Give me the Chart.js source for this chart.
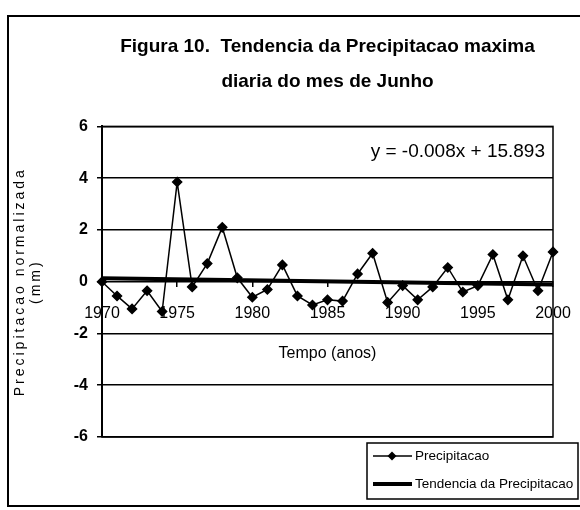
<!DOCTYPE html>
<html>
<head>
<meta charset="utf-8">
<script src="https://cdn.jsdelivr.net/npm/chart.js@4"></script>
<style>
  html, body { margin: 0; padding: 0; background: #fff; }
  #wrap { position: relative; width: 580px; height: 510px; }
</style>
</head>
<body>
<div id="wrap"><canvas id="chart"></canvas></div>
<script>
// data
const years = [1970, 1971, 1972, 1973, 1974, 1975, 1976, 1977, 1978, 1979,
               1980, 1981, 1982, 1983, 1984, 1985, 1986, 1987, 1988, 1989,
               1990, 1991, 1992, 1993, 1994, 1995, 1996, 1997, 1998, 1999, 2000];
const precip = [0.0, -0.55, -1.05, -0.35, -1.15, 3.85, -0.2, 0.7, 2.1, 0.15,
                -0.6, -0.3, 0.65, -0.55, -0.9, -0.7, -0.75, 0.3, 1.1, -0.8,
                -0.15, -0.7, -0.2, 0.55, -0.4, -0.15, 1.05, -0.7, 1.0, -0.35, 1.15];
const trendYears = [1970, 2000];
const trendValues = [0.13, -0.11];
const xTicks = [1970, 1975, 1980, 1985, 1990, 1995, 2000];
const yTicks = [-6, -4, -2, 0, 2, 4, 6];
const equation = 'y = -0.008x + 15.893';

const SANS = "'Liberation Sans', Arial, sans-serif";

// frame, plot border, equation and the boxed legend
const framePlugin = {
  id: 'frame',
  afterLayout(chart) {
    // spaced-out letters on the y axis title
    const s = chart.scales.y;
    if (!s._spaced) {
      const draw = s.drawTitle;
      s.drawTitle = function () {
        this.ctx.save();
        this.ctx.letterSpacing = '3px';
        draw.call(this);
        this.ctx.restore();
      };
      s._spaced = true;
    }
  },
  afterDraw(chart) {
    const { ctx, chartArea: a } = chart;
    ctx.save();
    ctx.strokeStyle = '#000';
    ctx.fillStyle = '#000';

    ctx.lineWidth = 1.5;
    ctx.strokeRect(a.left, a.top, a.right - a.left, a.bottom - a.top);

    ctx.lineWidth = 2;
    ctx.strokeRect(8, 16, 600, 490);

    ctx.font = '19px ' + SANS;
    ctx.textAlign = 'right';
    ctx.textBaseline = 'middle';
    ctx.fillText(equation, a.right - 8, a.top + 25);

    // legend box
    const lx = 367, ly = 443, lw = 211, lh = 56;
    ctx.fillStyle = '#fff';
    ctx.fillRect(lx, ly, lw, lh);
    ctx.lineWidth = 1.5;
    ctx.strokeRect(lx, ly, lw, lh);
    ctx.fillStyle = '#000';
    ctx.textAlign = 'left';
    ctx.font = '13.5px ' + SANS;
    const rows = [456, 484];
    chart.data.datasets.forEach((ds, i) => {
      const y = rows[i];
      ctx.lineWidth = ds.borderWidth;
      ctx.beginPath();
      ctx.moveTo(lx + 6, y);
      ctx.lineTo(lx + 45, y);
      ctx.stroke();
      if (ds.pointRadius > 0) {
        const r = ds.pointRadius;
        ctx.beginPath();
        ctx.moveTo(lx + 25, y - r);
        ctx.lineTo(lx + 25 + r, y);
        ctx.lineTo(lx + 25, y + r);
        ctx.lineTo(lx + 25 - r, y);
        ctx.closePath();
        ctx.fill();
      }
      ctx.fillText(ds.label, lx + 48, y);
    });
    ctx.restore();
  }
};

const ctx = document.getElementById('chart').getContext('2d');

const chart = new Chart(ctx, {
  type: 'line',
  data: {
    datasets: [{
      label: 'Precipitacao',
      data: years.map((yr, i) => ({ x: yr, y: precip[i] })),
      borderColor: '#000',
      backgroundColor: '#000',
      borderWidth: 1.5,
      pointStyle: 'rectRot',
      pointRadius: 4.5,
      pointBackgroundColor: '#000',
      pointBorderColor: '#000',
      tension: 0,
      fill: false,
      clip: false
    }, {
      label: 'Tendencia da Precipitacao',
      data: trendYears.map((yr, i) => ({ x: yr, y: trendValues[i] })),
      borderColor: '#000',
      borderWidth: 4,
      pointRadius: 0,
      fill: false,
      clip: false
    }]
  },
  plugins: [framePlugin],
  options: {
    animation: false,
    responsive: true,
    maintainAspectRatio: false,
    layout: {
      padding: { left: 6, right: 27, top: 0, bottom: 73 }
    },
    plugins: {
      legend: { display: false },
      tooltip: { enabled: false },
      title: {
        display: true,
        fullSize: false,
        text: ['Figura 10.  Tendencia da Precipitacao maxima', 'diaria do mes de Junho'],
        color: '#000',
        font: { family: SANS, size: 19, weight: 'bold', lineHeight: 1.8 },
        padding: { top: 30, bottom: 28 }
      }
    },
    scales: {
      x: {
        type: 'linear',
        min: 1970,
        max: 2000,
        position: { y: 0 },
        afterBuildTicks: (s) => { s.ticks = xTicks.map(v => ({ value: v })); },
        afterFit: (s) => { s.paddingLeft = 0; s.paddingRight = 0; },
        ticks: {
          color: '#000',
          font: { family: SANS, size: 16 },
          padding: 17,
          maxRotation: 0,
          callback: (v) => String(v)
        },
        grid: { drawOnChartArea: false, drawTicks: true, tickLength: 5, color: '#000', lineWidth: 1.5 },
        border: { display: true, color: '#000', width: 1 },
        title: {
          display: true,
          text: 'Tempo (anos)',
          color: '#000',
          font: { family: SANS, size: 16 },
          padding: { top: 4, bottom: 0 }
        }
      },
      y: {
        min: -6,
        max: 6,
        afterBuildTicks: (s) => { s.ticks = yTicks.map(v => ({ value: v })); },
        afterFit: (s) => { s.width = 96; },
        ticks: {
          color: '#000',
          font: { family: SANS, size: 16, weight: 'bold' },
          padding: 9
        },
        grid: { color: '#000', lineWidth: 1.5, tickLength: 5 },
        border: { color: '#000', width: 2 },
        title: {
          display: true,
          text: ['Precipitacao normalizada', '(mm)'],
          color: '#000',
          font: { family: SANS, size: 14, lineHeight: 1.15 },
          padding: { top: 6, bottom: 0 }
        }
      }
    }
  }
});
</script>
</body>
</html>
